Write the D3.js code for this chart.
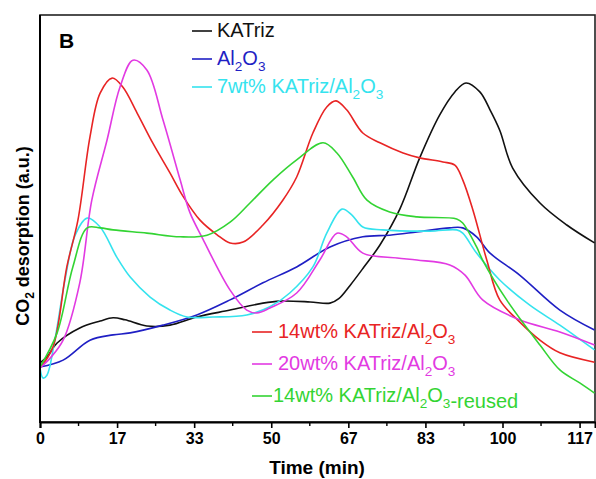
<!DOCTYPE html>
<html>
<head>
<meta charset="utf-8">
<script src="https://cdn.jsdelivr.net/npm/d3@7"></script>
<style>
  html, body { margin: 0; padding: 0; background: #fff; }
  svg { display: block; }
  text { font-family: Arial, "Liberation Sans", sans-serif; }
</style>
</head>
<body>
<svg id="chart" width="596" height="479"></svg>
<script>
// ---- data: [time (min), CO2 desorption (a.u.)] ----
const katriz = [[0,14.5],[1.5,16.0],[3.7,19.4],[8.6,23.1],[13,24.8],[15.8,25.6],[18.4,25.1],[23.1,23.6],[28.1,23.8],[33.9,25.8],[41.1,27.5],[48.2,29.2],[51.9,29.7],[58.4,29.5],[62.7,29.2],[64.6,30.3],[67.0,33.5],[70.0,38.0],[73.5,43.5],[77.8,52.3],[82.1,64.9],[86.4,75.4],[89.7,81.1],[92.1,83.3],[95.1,81.1],[97.3,76.7],[99.4,71.7],[102.2,62.4],[108.1,53.8],[113.9,48.4],[119.9,44.0]];
const al2o3 = [[0,13.5],[5.0,15.2],[10.8,20.1],[15.8,21.4],[19.5,21.9],[26.6,23.8],[33.9,26.3],[41.1,30.0],[48.2,34.2],[55.5,38.1],[62.7,43.0],[69.8,45.5],[75.6,45.9],[81.5,46.7],[88.6,47.7],[91.4,47.7],[94.4,45.5],[97.3,41.5],[103.7,36.1],[112.4,27.5],[119.9,22.6]];
const kat7 = [[0,13.3],[0.65,10.8],[1.5,11.5],[3.2,20.1],[5.4,34.9],[7.6,45.9],[10.2,50.1],[13.0,47.9],[16.6,40.5],[19.5,35.6],[23.8,30.7],[28.1,27.5],[31.8,25.8],[37.4,25.8],[44.7,26.3],[49.7,28.3],[54.0,31.7],[59.0,38.1],[62.0,46.4],[65.3,52.3],[67.4,50.9],[69.8,47.9],[74.1,47.2],[84.3,46.9],[90.1,47.2],[91.4,46.4],[94.4,41.5],[99.4,34.9],[105.9,28.7],[112.4,23.8],[119.9,17.7]];
const kat14 = [[0,13.3],[2.8,18.4],[5.8,38.1],[8.2,49.6],[10.8,70.0],[13.0,80.8],[15.6,84.5],[17.9,82.3],[21.0,75.9],[24.4,68.5],[28.1,61.2],[30.9,55.5],[34.6,49.6],[38.3,46.0],[41.1,44.0],[43.9,44.2],[48.2,48.4],[52.5,54.5],[55.5,60.2],[59.0,71.0],[62.0,77.4],[64.0,78.9],[66.3,76.7],[69.8,71.0],[73.5,68.6],[78.5,66.1],[82.1,64.9],[87.1,63.9],[89.7,63.1],[91.4,59.5],[93.6,52.1],[96.6,39.8],[99.4,30.0],[103.7,24.6],[108.1,20.1],[112.4,17.0],[119.9,14.7]];
const kat20 = [[0,13.3],[2.2,15.7],[5.0,20.1],[8.6,34.2],[11.2,54.5],[14.5,69.3],[17.3,82.3],[20.1,88.9],[23.1,86.5],[26.6,74.2],[30.3,59.5],[32.4,51.5],[35.2,45.0],[41.1,32.4],[44.7,27.5],[46.9,26.8],[49.7,28.0],[55.5,31.7],[60.5,39.8],[64.2,46.4],[66.3,45.5],[69.8,41.5],[77.2,40.3],[81.5,39.8],[88.6,38.6],[91.9,36.1],[95.7,30.0],[103.7,25.1],[112.4,22.1],[119.9,18.9]];
const kat14reused = [[0,13.5],[3.7,21.9],[7.1,38.1],[10.2,47.7],[13,47.7],[15.8,47.2],[23.1,46.4],[30.3,45.5],[36.1,45.9],[41.1,49.1],[45.4,53.8],[50.4,59.5],[55.5,64.4],[61.2,68.6],[64.2,66.1],[67.6,60.2],[70.7,54.5],[75.6,51.6],[81.5,50.4],[90.1,49.9],[91.4,48.9],[94.4,43.0],[95.7,39.8],[100.9,30.0],[108.1,18.9],[112.4,12.8],[116.7,9.6],[119.9,7.1]];

const tickValues = [0, 50/3, 100/3, 50, 200/3, 250/3, 100, 350/3];
const tickLabels = ["0", "17", "33", "50", "67", "83", "100", "117"];

const seriesList = [
  { name: "KATriz", data: katriz, color: "#111111" },
  { name: "Al2O3", data: al2o3, color: "#1f1fc4" },
  { name: "7wt% KATriz/Al2O3", data: kat7, color: "#35e3ee" },
  { name: "14wt% KATriz/Al2O3", data: kat14, color: "#e82424" },
  { name: "20wt% KATriz/Al2O3", data: kat20, color: "#e23ae2" },
  { name: "14wt% KATriz/Al2O3-reused", data: kat14reused, color: "#33d433" }
];

// ---- layout ----
const svg = d3.select("#chart");
const L = 40, R = 595, T = 15, B = 422;
const x = d3.scaleLinear().domain([0, 120]).range([L, R]);
const y = d3.scaleLinear().domain([0, 100]).range([B, T]);

// frame
svg.append("rect").attr("x", L).attr("y", T).attr("width", R - L).attr("height", B - T)
  .attr("fill", "none").attr("stroke", "#222").attr("stroke-width", 1.6);

// lines
const line = d3.line().x(d => x(d[0])).y(d => y(d[1])).curve(d3.curveCatmullRom.alpha(0.5));
seriesList.forEach(s => {
  svg.append("path").datum(s.data).attr("d", line)
    .attr("fill", "none").attr("stroke", s.color).attr("stroke-width", 1.6)
    .attr("stroke-linejoin", "round");
});

// x axis
const xAxis = d3.axisBottom(x).tickValues(tickValues)
  .tickFormat((d, i) => tickLabels[i]).tickSize(6).tickPadding(5);
const gx = svg.append("g").attr("transform", `translate(0,${B})`).call(xAxis);
gx.select(".domain").attr("stroke", "#000").attr("stroke-width", 2);
gx.selectAll(".tick line").attr("stroke", "#000").attr("stroke-width", 1.6);
gx.selectAll(".tick text").attr("font-size", 16).attr("font-weight", "bold")
  .attr("fill", "#000").attr("font-family", "Arial, 'Liberation Sans', sans-serif");
const minor = tickValues.map(v => v + 25/3);
gx.selectAll(".minor").data(minor).enter().append("line")
  .attr("x1", d => x(d)).attr("x2", d => x(d)).attr("y1", 0).attr("y2", 4)
  .attr("stroke", "#000").attr("stroke-width", 1.4);

// y axis line
svg.append("line").attr("x1", L).attr("x2", L).attr("y1", T).attr("y2", B + 1)
  .attr("stroke", "#000").attr("stroke-width", 2);

// axis titles
svg.append("text").attr("x", 317).attr("y", 474).attr("text-anchor", "middle")
  .attr("font-size", 19).attr("font-weight", "bold").text("Time (min)");
const yt = svg.append("text").attr("transform", "translate(29,236) rotate(-90)")
  .attr("text-anchor", "middle").attr("font-size", 18).attr("font-weight", "bold");
yt.append("tspan").text("CO");
yt.append("tspan").attr("font-size", 12).attr("dy", 5).text("2");
yt.append("tspan").attr("dy", -5).text(" desorption (a.u.)");

// panel label
svg.append("text").attr("x", 59).attr("y", 48).attr("font-size", 21)
  .attr("font-weight", "bold").text("B");

// legend
function chem(textSel, str, fs) {
  const parts = str.split(/(Al2O3)/);
  parts.forEach(p => {
    if (p === "Al2O3") {
      textSel.append("tspan").text("Al");
      textSel.append("tspan").attr("font-size", fs * 0.68).attr("dy", 6).text("2");
      textSel.append("tspan").attr("dy", -6).text("O");
      textSel.append("tspan").attr("font-size", fs * 0.68).attr("dy", 6).text("3");
      textSel.append("tspan").attr("dy", -6).text("");
    } else if (p.length) {
      textSel.append("tspan").text(p);
    }
  });
}
const legendPos = [
  { x1: 192, x2: 212, tx: 217, by: 37 },
  { x1: 192, x2: 212, tx: 217, by: 65 },
  { x1: 192, x2: 212, tx: 217, by: 93 },
  { x1: 252, x2: 272, tx: 278, by: 338 },
  { x1: 252, x2: 272, tx: 278, by: 370 },
  { x1: 252, x2: 272, tx: 273, by: 402 }
];
seriesList.forEach((s, i) => {
  const p = legendPos[i];
  svg.append("line").attr("x1", p.x1).attr("x2", p.x2).attr("y1", p.by - 6).attr("y2", p.by - 6)
    .attr("stroke", s.color).attr("stroke-width", 1.6);
  const t = svg.append("text").attr("x", p.tx).attr("y", p.by)
    .attr("font-size", 20).attr("fill", s.color);
  chem(t, s.name, 20);
});
</script>
</body>
</html>
